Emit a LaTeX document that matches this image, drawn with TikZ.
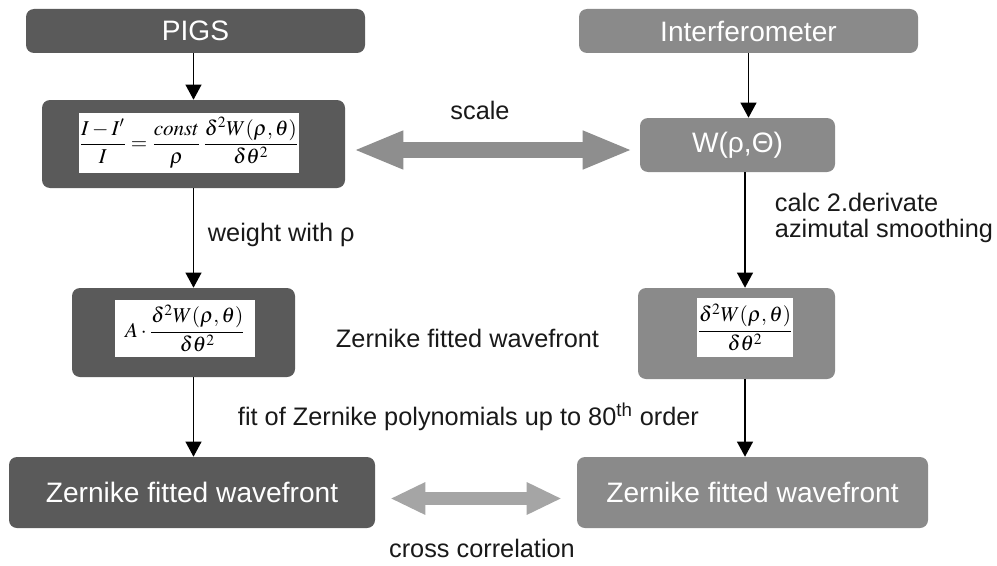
\documentclass[tikz,border=0pt]{standalone}
\usepackage{mathptmx}
\usepackage{fontspec}
\setmainfont{Liberation Sans}
\usetikzlibrary{arrows.meta}
\definecolor{darkbox}{HTML}{5A5A5A}
\definecolor{lightbox}{HTML}{8A8A8A}
\definecolor{scalegray}{HTML}{8E8E8E}
\definecolor{corrgray}{HTML}{A5A5A5}
% one pixel of the original figure
\newcommand{\pix}{*0.025cm}

\begin{document}
\begin{tikzpicture}[
    x = 0.025cm, y = -0.025cm,
    box/.style = {rounded corners = 0.2cm, inner sep = 0pt, text = white,
                  font = \fontsize{20}{24}\selectfont},
    darkb/.style = {box, fill = darkbox},
    lightb/.style = {box, fill = lightbox},
    inner/.style = {fill = white, inner sep = 0pt, text = black,
                    font = \fontsize{15}{17}\selectfont},
    lbl/.style = {font = \fontsize{18}{18}\selectfont, text = black!90},
    flow/.style = {-{Triangle[length = 0.38cm, width = 0.4cm]}, line width = 1.1pt},
    scalearrow/.style = {draw = scalegray, line width = 0.375cm,
                         {Triangle[length = 1.25cm, width = 0.875cm]}-{Triangle[length = 1.25cm, width = 0.875cm]}},
    corrarrow/.style = {draw = corrgray, line width = 0.325cm,
                        {Triangle[length = 0.875cm, width = 0.75cm]}-{Triangle[length = 0.875cm, width = 0.75cm]}}
  ]
  \useasboundingbox (0, 0) rectangle (997, 565);
  % nodes
  \node[darkb, minimum width = 339\pix, minimum height = 44\pix]  (pigs) at (195.5, 31)   {PIGS};
  \node[lightb, minimum width = 339\pix, minimum height = 44\pix] (intf) at (748.5, 31)   {Interferometer};
  \node[darkb, minimum width = 303\pix, minimum height = 88\pix]  (dl1)  at (193.5, 144)  {};
  \node[inner, minimum width = 212\pix, minimum height = 60\pix]  (fl1)  at (189, 143)
    {$\displaystyle \frac{I-I'}{I} = \frac{const}{\rho}\,\frac{\delta^2 W(\rho,\theta)}{\delta\theta^2}$};
  \node[lightb, minimum width = 195\pix, minimum height = 54\pix] (wrt)  at (737.5, 145)  {W(ρ,Θ)};
  \node[darkb, minimum width = 223\pix, minimum height = 89\pix]  (dl2)  at (183.5, 332.5) {};
  \node[inner, minimum width = 140\pix, minimum height = 57\pix]  (fl2)  at (185, 328.5)
    {$\displaystyle A\cdot\frac{\delta^2 W(\rho,\theta)}{\delta\theta^2}$};
  \node[lightb, minimum width = 197\pix, minimum height = 91\pix] (dr2)  at (736.5, 333.5) {};
  \node[inner, minimum width = 94\pix, minimum height = 59\pix]   (fr2)  at (745, 327.5)
    {$\displaystyle \frac{\delta^2 W(\rho,\theta)}{\delta\theta^2}$};
  \node[darkb, minimum width = 366\pix, minimum height = 71\pix]  (zl)   at (192, 492.5)  {Zernike fitted wavefront};
  \node[lightb, minimum width = 351\pix, minimum height = 71\pix] (zr)   at (752.5, 492.5) {Zernike fitted wavefront};
  % labels
  \node[lbl]                            (scl) at (480, 110) {scale};
  \node[lbl, anchor = west]             (wgt) at (203, 235) {weight with ρ};
  \node[lbl, anchor = west, align = left] (clc) at (770, 218) {calc 2.derivate\\azimutal smoothing};
  \node[lbl, anchor = west]             (zfw) at (331, 338) {Zernike fitted wavefront};
  \node[lbl, anchor = west]             (fit) at (233, 417) {fit of Zernike polynomials up to 80\textsuperscript{th} order};
  \node[lbl]                            (xc)  at (482, 548) {cross correlation};
  % processing steps
  \draw[flow] (dl1.north |- pigs.south) -- (dl1.north);
  \draw[flow] (intf.south) -- (intf.south |- wrt.north);
  \draw[flow] (dl1.south) -- (dl1.south |- dl2.north);
  \draw[flow] (fr2 |- wrt.south) -- (fr2 |- dr2.north);
  \draw[flow] (dl1.south |- dl2.south) -- (dl1.south |- zl.north);
  \draw[flow] (fr2 |- dr2.south) -- (fr2 |- zr.north);
  % comparisons
  \draw[scalearrow, shorten <= 8\pix, shorten >= 7\pix] ([yshift = -6\pix]dl1.east) -- ([yshift = -5\pix]wrt.west);
  \draw[corrarrow, shorten <= 15\pix, shorten >= 15\pix] ([yshift = -6\pix]zl.east) -- ([yshift = -6\pix]zr.west);
\end{tikzpicture}
\end{document}
